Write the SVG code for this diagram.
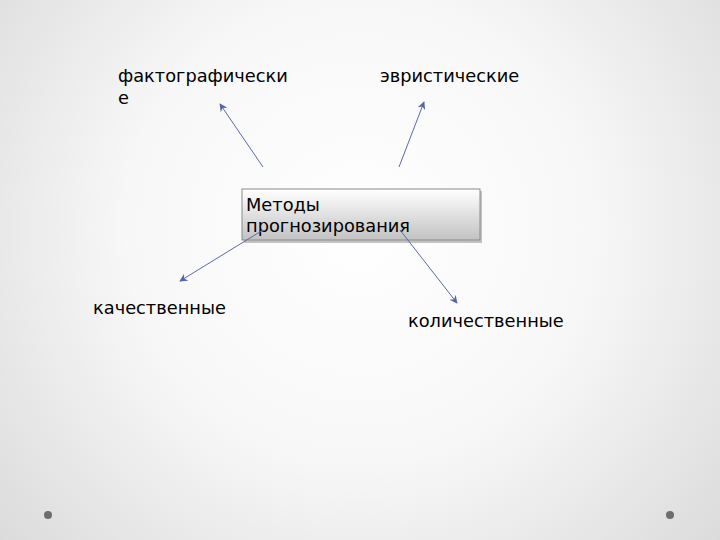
<svg xmlns="http://www.w3.org/2000/svg" width="720" height="540" viewBox="0 0 720 540">
<defs>
<radialGradient id="bg" cx="360" cy="230" r="520" gradientUnits="userSpaceOnUse">
<stop offset="0" stop-color="#ffffff"/>
<stop offset="0.45" stop-color="#f7f7f7"/>
<stop offset="1" stop-color="#d6d6d6"/>
</radialGradient>
<linearGradient id="boxg" x1="0" y1="0" x2="0" y2="1">
<stop offset="0" stop-color="#ffffff"/>
<stop offset="1" stop-color="#c2c2c2"/>
</linearGradient>
<marker id="ah" viewBox="0 0 10 10" refX="9" refY="5" markerWidth="8" markerHeight="8" orient="auto" markerUnits="userSpaceOnUse">
<path d="M0,0 L10,5 L0,10 L3,5 Z" fill="#5566a6"/>
</marker>
</defs>
<style>
.t{font-family:"DejaVu Sans",sans-serif;font-size:17.8px;fill:#000}
.c{stroke:#5a6aa5;stroke-width:1;fill:none;marker-end:url(#ah)}
.dot{fill:#6e6e6e}
</style>
<rect width="720" height="540" fill="url(#bg)"/>
<circle class="dot" cx="48" cy="515" r="4"/>
<circle class="dot" cx="670" cy="515" r="4"/>
<g id="center">
<rect x="244" y="191" width="238" height="52" fill="#9c9c9c" opacity="0.6"/>
<rect x="242" y="189" width="238" height="51" fill="url(#boxg)" stroke="#8a8a8a" stroke-width="1"/>
<text class="t" x="246" y="211">Методы</text>
<text class="t" x="246" y="232">прогнозирования</text>
</g>
<g id="connectors">
<line class="c" x1="263" y1="167" x2="220" y2="104"/>
<line class="c" x1="399" y1="167" x2="424" y2="102"/>
<line class="c" x1="263" y1="230" x2="180" y2="281"/>
<line class="c" x1="400" y1="230" x2="457" y2="303"/>
</g>
<g id="fakto">
<text class="t" x="118" y="82">фактографически</text>
<text class="t" x="118" y="104">е</text>
</g>
<g id="evr"><text class="t" x="380" y="82">эвристические</text></g>
<g id="kach"><text class="t" x="93" y="314">качественные</text></g>
<g id="kol"><text class="t" x="408" y="327">количественные</text></g>
</svg>
